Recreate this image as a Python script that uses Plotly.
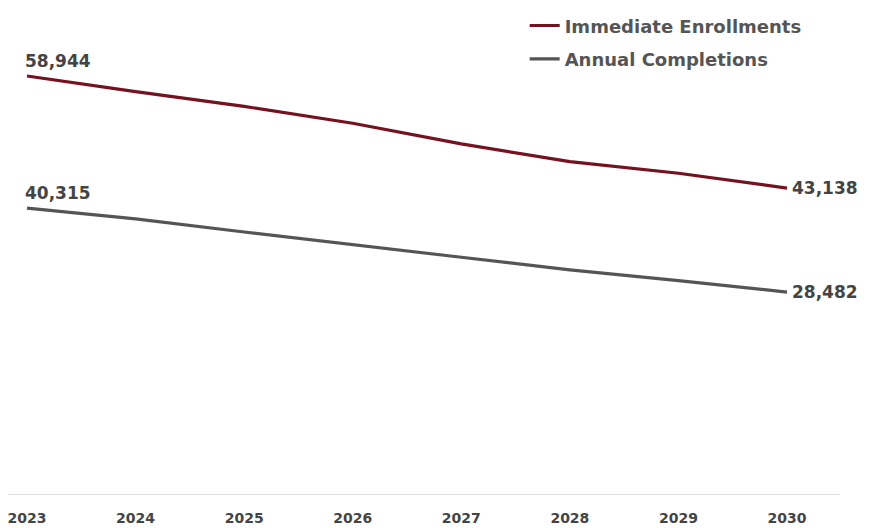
import plotly.graph_objects as go

years = [2023, 2024, 2025, 2026, 2027, 2028, 2029, 2030]
enrollments = [58944, 56740, 54660, 52290, 49370, 46870, 45230, 43138]
completions = [40315, 38800, 36950, 35120, 33390, 31600, 30100, 28482]
series_names = ["Immediate Enrollments", "Annual Completions"]
tick_labels = [str(y) for y in years]

RED = "#76111f"
GRAY = "#555555"
TXT = "#444444"
FONT = "DejaVu Sans"

fig = go.Figure()
for name, vals, col, grp in [(series_names[0], enrollments, RED, "a"),
                             (series_names[1], completions, GRAY, "b")]:
    fig.add_trace(go.Scatter(x=years, y=vals, mode="lines", name=name,
                             legendgroup=grp,
                             line=dict(color=col, width=3.2)))

def fmt(v):
    return f"{v:,}"

for vals in (enrollments, completions):
    fig.add_annotation(x=years[0], y=vals[0], text=fmt(vals[0]), showarrow=False,
                       xanchor="left", yanchor="bottom", xshift=-4, yshift=3,
                       font=dict(family=FONT, size=17, color=TXT, weight="bold"))
    fig.add_annotation(x=years[-1], y=vals[-1], text=fmt(vals[-1]), showarrow=False,
                       xanchor="left", yanchor="middle", xshift=3,
                       font=dict(family=FONT, size=17, color=TXT, weight="bold"))

fig.update_layout(
    width=871, height=528,
    margin=dict(l=0, r=39, t=18, b=42, autoexpand=False),
    paper_bgcolor="white", plot_bgcolor="white",
    showlegend=True,
    legend=dict(x=0.621, xanchor="left", y=1.04, yanchor="top",
                font=dict(family=FONT, size=18, color=GRAY, weight="bold"),
                itemwidth=30, tracegroupgap=7, bgcolor="rgba(0,0,0,0)"),
    xaxis=dict(range=[2022.825, 2030.488], tickvals=years, ticktext=tick_labels,
               showgrid=False, zeroline=False, showline=True, linecolor="#dddddd",
               linewidth=1, ticks="", ticklabelstandoff=11, automargin=False,
               ticklabeloverflow="allow",
               tickfont=dict(family=FONT, size=14, color=TXT, weight="bold")),
    yaxis=dict(range=[0, 66000], showgrid=False, zeroline=False, showline=False,
               showticklabels=False, automargin=False),
)

fig.write_html("out.html")
